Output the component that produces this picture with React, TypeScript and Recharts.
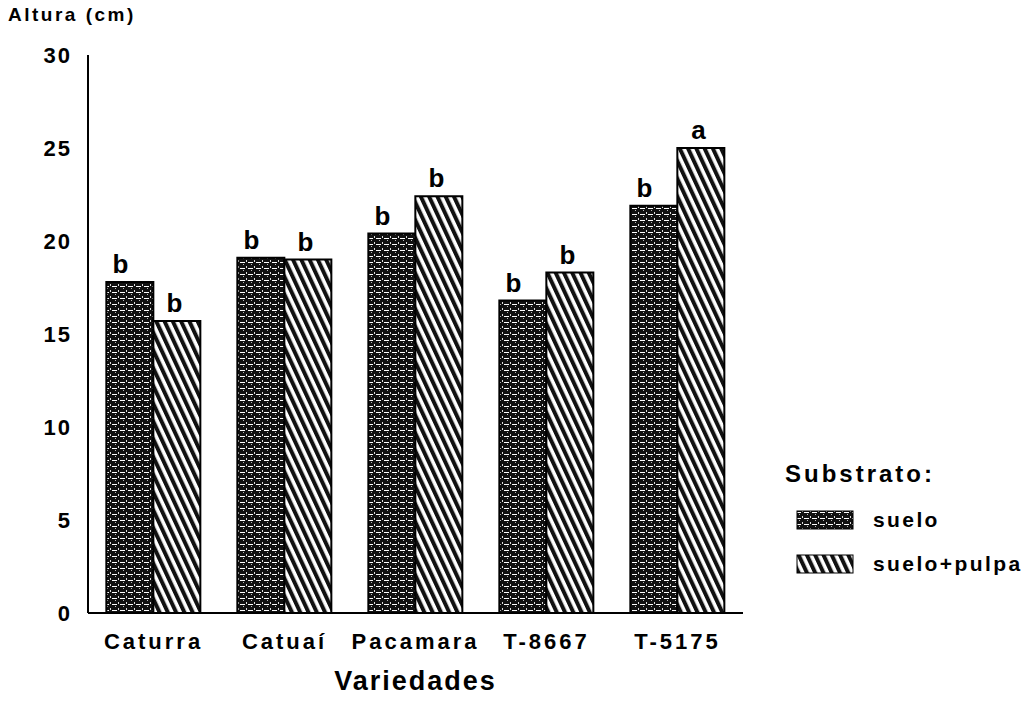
import { Bar, BarChart, LabelList, XAxis, YAxis } from "recharts"

const variedades = ["Caturra", "Catuaí", "Pacamara", "T-8667", "T-5175"]
const suelo = [17.8, 19.1, 20.4, 16.8, 21.9]
const sueloPulpa = [15.7, 19.0, 22.4, 18.3, 25.0]
const letrasSuelo = ["b", "b", "b", "b", "b"]
const letrasPulpa = ["b", "b", "b", "b", "a"]
const yTicks = [0, 5, 10, 15, 20, 25, 30]

const data = variedades.map((name, i) => ({
  name,
  suelo: suelo[i],
  pulpa: sueloPulpa[i],
  letraSuelo: letrasSuelo[i],
  letraPulpa: letrasPulpa[i],
}))

const font = "'Liberation Sans', Arial, sans-serif"

// fills shared by the bars and the legend swatches
function Patterns({ suffix = "" }: { suffix?: string }) {
  return (
    <defs>
      <pattern id={`grid${suffix}`} width="8" height="6" patternUnits="userSpaceOnUse">
        <rect width="8" height="6" fill="#111" />
        <rect x="0" y="2" width="5" height="1" fill="#fff" />
        <rect x="6" y="0" width="1" height="2" fill="#ddd" />
        <rect x="3" y="4" width="1" height="1" fill="#bbb" />
      </pattern>
      <pattern
        id={`stripes${suffix}`}
        width="7.5"
        height="10"
        patternUnits="userSpaceOnUse"
        patternTransform="rotate(-25)"
      >
        <rect width="7.5" height="10" fill="#fff" />
        <rect width="4" height="10" fill="#111" />
      </pattern>
    </defs>
  )
}

const letter = (frac: number) => (props: any) => {
  const { x, y, width, value } = props
  return (
    <text
      x={x + width * frac}
      y={y - 9}
      textAnchor="middle"
      fontFamily={font}
      fontWeight={700}
      fontSize={26}
      fill="#000"
    >
      {value}
    </text>
  )
}

function LegendBox() {
  const items = [
    { fill: "url(#gridL)", label: "suelo", top: 48 },
    { fill: "url(#stripesL)", label: "suelo+pulpa", top: 92 },
  ]
  return (
    <div
      style={{
        position: "absolute",
        left: 777,
        top: 452,
        width: 248,
        height: 125,
        fontFamily: font,
        fontWeight: 700,
        color: "#000",
      }}
    >
      <div style={{ position: "absolute", left: 0, top: 0, fontSize: 24, letterSpacing: 3 }}>
        Substrato:
      </div>
      {items.map((it) => (
        <div
          key={it.label}
          style={{ position: "absolute", left: 11, top: it.top, display: "flex", alignItems: "center" }}
        >
          <svg width="58" height="20" style={{ marginRight: 19, display: "block" }}>
            <Patterns suffix="L" />
            <rect x="1" y="1" width="56" height="18" fill={it.fill} stroke="#000" strokeWidth={1} />
          </svg>
          <span style={{ fontSize: 21, letterSpacing: 2.4, whiteSpace: "nowrap" }}>{it.label}</span>
        </div>
      ))}
    </div>
  )
}

export default function App() {
  return (
    <div style={{ position: "relative", width: 1017, height: 691, background: "#fff" }}>
      <div
        style={{
          position: "absolute",
          left: 0,
          top: -4,
          fontFamily: font,
          fontWeight: 700,
          fontSize: 19,
          letterSpacing: 2.5,
          color: "#000",
        }}
      >
        Altura (cm)
      </div>
      <BarChart
        width={1017}
        height={691}
        data={data}
        margin={{ top: 47, right: 282, bottom: 4, left: 20 }}
        barCategoryGap="14%"
        barGap={0}
      >
        <Patterns />
        <XAxis
          dataKey="name"
          axisLine={{ stroke: "#000", strokeWidth: 2 }}
          tickLine={false}
          tickMargin={14}
          height={82}
          tick={{ fill: "#000", fontFamily: font, fontWeight: 700, fontSize: 22, letterSpacing: 3 }}
          label={{
            value: "Variedades",
            position: "insideBottom",
            offset: 5,
            fill: "#000",
            fontFamily: font,
            fontWeight: 700,
            fontSize: 27,
            letterSpacing: 2,
          }}
        />
        <YAxis
          width={60}
          domain={[0, 30]}
          ticks={yTicks}
          axisLine={{ stroke: "#000", strokeWidth: 2 }}
          tickLine={false}
          tickMargin={10}
          tick={{ fill: "#000", fontFamily: font, fontWeight: 700, fontSize: 22, letterSpacing: 2 }}
        />
        <Bar
          dataKey="suelo"
          name="suelo"
          fill="url(#grid)"
          stroke="#000"
          strokeWidth={2}
          isAnimationActive={false}
        >
          <LabelList dataKey="letraSuelo" content={letter(0.3)} />
        </Bar>
        <Bar
          dataKey="pulpa"
          name="suelo+pulpa"
          fill="url(#stripes)"
          stroke="#000"
          strokeWidth={2}
          isAnimationActive={false}
        >
          <LabelList dataKey="letraPulpa" content={letter(0.45)} />
        </Bar>
      </BarChart>
      <LegendBox />
    </div>
  )
}
